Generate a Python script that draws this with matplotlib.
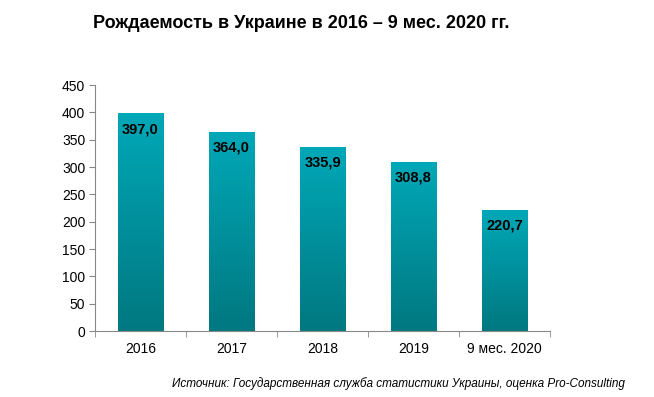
import numpy as np
import matplotlib.pyplot as plt
from matplotlib.colors import LinearSegmentedColormap

plt.rcParams['font.family'] = ['Liberation Sans', 'DejaVu Sans']

categories = ['2016', '2017', '2018', '2019', '9 мес. 2020']
values = [397.0, 364.0, 335.9, 308.8, 220.7]
labels = ['397,0', '364,0', '335,9', '308,8', '220,7']

fig = plt.figure(figsize=(6.54, 3.97), dpi=100)
ax = fig.add_axes([0.1453, 0.1662, 0.6957, 0.6196])

x = np.arange(len(categories))
bars = ax.bar(x, values, width=0.5, color='none', edgecolor='none')

cmap = LinearSegmentedColormap.from_list('teal', ['#007880', '#00A8B8'])
grad = np.linspace(0, 1, 256).reshape(-1, 1)
for b in bars:
    x0, w, h = b.get_x(), b.get_width(), b.get_height()
    ax.imshow(grad, cmap=cmap, origin='lower', aspect='auto',
              extent=[x0, x0 + w, 0, h], zorder=2)

for xi, v, lab in zip(x, values, labels):
    ax.text(xi, v - 15, lab, ha='center', va='top', fontsize=10.5,
            fontweight='bold', color='black', zorder=3)

ax.set_xlim(-0.5, len(categories) - 0.5)
ax.set_ylim(0, 450)
ax.set_yticks(range(0, 451, 50))
ax.tick_params(axis='y', labelsize=10, length=4, color='#888888', pad=3)
ax.set_xticks(x)
ax.set_xticklabels(categories)
ax.set_xticks(np.arange(-0.5, len(categories)), minor=True)
ax.tick_params(axis='x', which='major', length=0, labelsize=10, pad=8)
ax.tick_params(axis='x', which='minor', length=4, color='#888888')

for s in ['top', 'right']:
    ax.spines[s].set_visible(False)
for s in ['left', 'bottom']:
    ax.spines[s].set_color('#888888')

fig.text(0.46, 0.94, 'Рождаемость в Украине в 2016 – 9 мес. 2020 гг.',
         ha='center', va='center', fontsize=13, fontweight='bold')
fig.text(0.955, 0.035,
         'Источник: Государственная служба статистики Украины, оценка Pro-Consulting',
         ha='right', va='center', fontsize=8.5, style='italic')

fig.savefig('out.png', dpi=100)
